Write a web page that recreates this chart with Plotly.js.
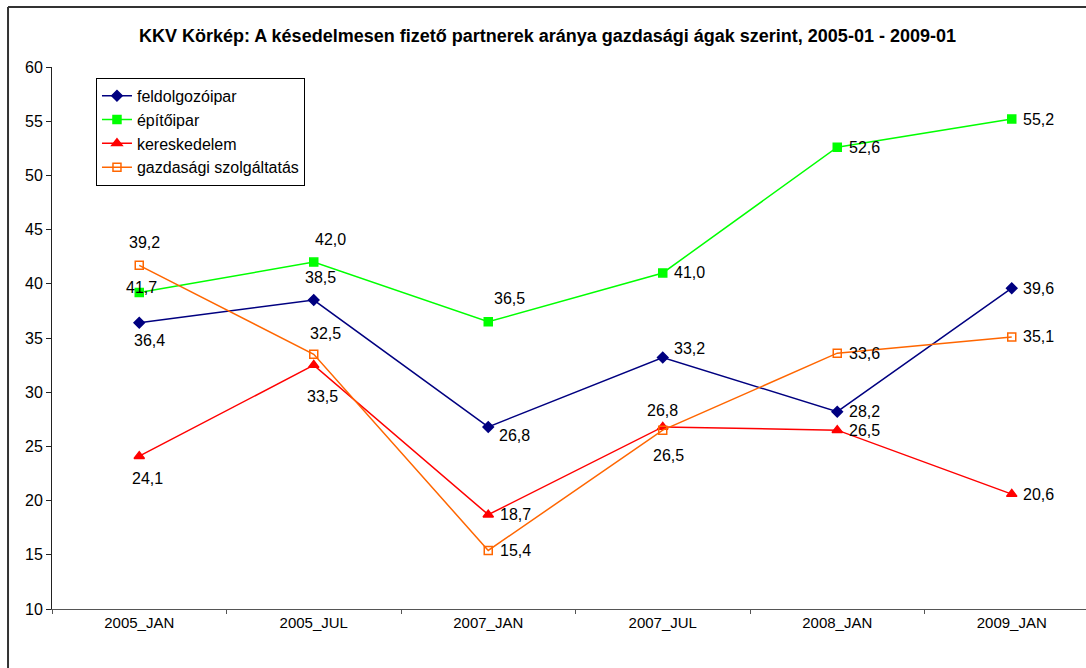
<!DOCTYPE html>
<html>
<head>
<meta charset="utf-8">
<script src="https://cdn.plot.ly/plotly-3.0.1.min.js"></script>
<style>
  body { margin: 0; overflow: hidden; background: #fff; }
  #chart { width: 1110px; height: 668px; }
</style>
</head>
<body>
<div id="chart"></div>
<script>
var categories = ['2005_JAN', '2005_JUL', '2007_JAN', '2007_JUL', '2008_JAN', '2009_JAN'];

var feldolgozoipar = [36.4, 38.5, 26.8, 33.2, 28.2, 39.6];
var epitoipar = [39.2, 42.0, 36.5, 41.0, 52.6, 55.2];
var kereskedelem = [24.1, 32.5, 18.7, 26.8, 26.5, 20.6];
var szolgaltatas = [41.7, 33.5, 15.4, 26.5, 33.6, 35.1];

// where each value label sits, in pixels from its point (dx right, dy down)
var feldDx = [10, 7, 26, 27, 27, 27], feldDy = [18, -23, 9, -9, 0, 0];
var epitDx = [5, 17, 21, 27, 27, 27], epitDy = [-50, -23, -23, 0, 0, 0];
var kereDx = [8, 12, 27, 0, 27, 27], kereDy = [22, -32, 0, -16, 0, 0];
var szolDx = [2, 9, 27, 6, 27, 27], szolDy = [22, 42, 0, 25, 0, 0];

var font = 'Liberation Sans, Arial, sans-serif';

function serie(name, values, color, symbol, size) {
  return {
    type: 'scatter',
    mode: 'lines+markers',
    name: name,
    x: categories,
    y: values,
    line: {color: color, width: 1.5},
    marker: {symbol: symbol, size: size, color: color, line: {color: color, width: 1.5}},
    hoverinfo: 'x+y+name'
  };
}

var data = [
  serie('feldolgozóipar', feldolgozoipar, '#000080', 'diamond', 8),
  serie('építőipar', epitoipar, '#00FF00', 'square', 8),
  serie('kereskedelem', kereskedelem, '#FF0000', 'triangle-up', 9),
  serie('gazdasági szolgáltatás', szolgaltatas, '#FF6600', 'square-open', 8)
];

function fmt(v) { return v.toFixed(1).replace('.', ','); }

var annotations = [];
function addLabels(values, dx, dy) {
  values.forEach(function (v, i) {
    annotations.push({
      x: categories[i], y: v, xref: 'x', yref: 'y',
      text: fmt(v), showarrow: false,
      xshift: dx[i], yshift: -dy[i],
      font: {family: font, size: 16, color: '#000'}
    });
  });
}
addLabels(feldolgozoipar, feldDx, feldDy);
addLabels(epitoipar, epitDx, epitDy);
addLabels(kereskedelem, kereDx, kereDy);
addLabels(szolgaltatas, szolDx, szolDy);

var layout = {
  width: 1110,
  height: 668,
  margin: {l: 52, r: 11, t: 67, b: 59},
  paper_bgcolor: '#fff',
  plot_bgcolor: '#fff',
  font: {family: font, size: 16, color: '#000'},
  title: {
    text: '<b>KKV Körkép: A késedelmesen fizető partnerek aránya gazdasági ágak szerint, 2005-01 - 2009-01</b>',
    font: {family: font, size: 18, color: '#000'},
    xref: 'container', x: 0.4932,
    yref: 'container', y: 1 - 36 / 668, yanchor: 'middle'
  },
  xaxis: {
    type: 'category',
    range: [-0.5, 5.5],
    tickson: 'boundaries',
    ticks: 'outside', ticklen: 4, tickcolor: '#555',
    showline: true, linecolor: '#555', linewidth: 1,
    showgrid: false, zeroline: false,
    tickfont: {family: font, size: 15, color: '#000'}
  },
  yaxis: {
    range: [10, 60],
    dtick: 5,
    ticks: 'outside', ticklen: 5, tickcolor: '#222',
    showline: true, linecolor: '#222', linewidth: 1,
    showgrid: false, zeroline: false,
    tickfont: {family: font, size: 16, color: '#000'}
  },
  legend: {
    x: 0.042, y: 0.98, xanchor: 'left', yanchor: 'top',
    bgcolor: '#fff', bordercolor: '#000', borderwidth: 1,
    font: {family: font, size: 16, color: '#000'}
  },
  shapes: [
    {type: 'line', xref: 'paper', yref: 'paper', x0: -0.042, x1: -0.042, y0: -0.12, y1: 1.1107,
     line: {color: '#333', width: 2}},
    {type: 'line', xref: 'paper', yref: 'paper', x0: -0.042, x1: 1.05, y0: 1.1107, y1: 1.1107,
     line: {color: '#333', width: 2}}
  ],
  annotations: annotations,
  showlegend: true
};

Plotly.newPlot('chart', data, layout, {displayModeBar: false, staticPlot: true});
</script>
</body>
</html>
